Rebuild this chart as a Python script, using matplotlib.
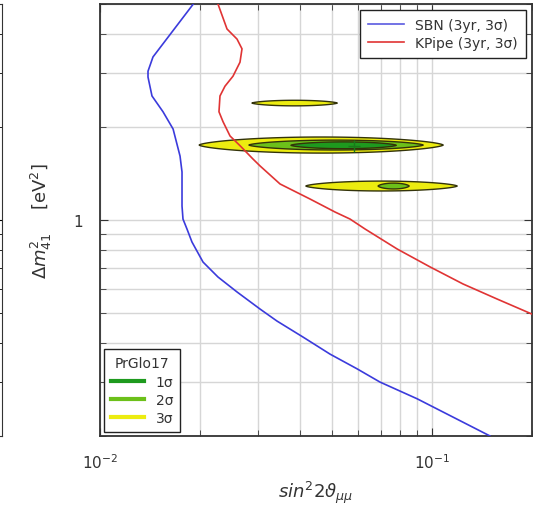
import numpy as np
import matplotlib
matplotlib.use('Agg')
import matplotlib.pyplot as plt
from matplotlib.lines import Line2D
from matplotlib.ticker import LogLocator, NullFormatter, FuncFormatter

# sensitivity curves (sin^2 2theta, dm^2 [eV^2])
sbn_x = [0.0191, 0.01444, 0.01395, 0.01395, 0.01434, 0.01548, 0.01660, 0.01742,
         0.01766, 0.01766, 0.01778, 0.01828, 0.01892, 0.02043, 0.02266, 0.02586,
         0.03034, 0.03412, 0.04087, 0.04932, 0.05943, 0.06966, 0.09012, 0.1495]
sbn_y = [5.0, 3.37, 3.03, 2.90, 2.52, 2.24, 1.97, 1.61,
         1.43, 1.11, 1.007, 0.935, 0.849, 0.731, 0.654, 0.585,
         0.515, 0.471, 0.418, 0.368, 0.330, 0.299, 0.264, 0.2]

kpipe_x = [0.02266, 0.02413, 0.02586, 0.02677, 0.02640, 0.02515, 0.02379, 0.02298,
           0.02282, 0.02347, 0.02464, 0.02640, 0.02889, 0.03034, 0.03485, 0.04292,
           0.05105, 0.05663, 0.06285, 0.07847, 0.09862, 0.1239, 0.1570, 0.2]
kpipe_y = [5.0, 4.15, 3.85, 3.58, 3.24, 2.92, 2.71, 2.52,
           2.24, 2.08, 1.87, 1.74, 1.575, 1.496, 1.308, 1.169,
           1.061, 1.007, 0.935, 0.806, 0.705, 0.621, 0.555, 0.496]

# PrGlo17 allowed islands: level, x range, centre dm^2, half height (decades)
island_level = [3, 3, 2, 1, 3, 2]
island_xlo = [0.0287, 0.0199, 0.0281, 0.0376, 0.0417, 0.0688]
island_xhi = [0.0518, 0.108, 0.094, 0.078, 0.119, 0.0853]
island_y = [2.39, 1.748, 1.748, 1.745, 1.288, 1.288]
island_dy = [0.009, 0.026, 0.016, 0.011, 0.016, 0.0095]

bestfit_x = [0.0582]
bestfit_y = [1.736]

level_colors = {1: '#1e9a1e', 2: '#6cc01a', 3: '#ecec10'}
level_labels = {1: '1σ', 2: '2σ', 3: '3σ'}

fig = plt.figure(figsize=(5.33, 5.06), dpi=100)
ax = fig.add_axes([100 / 533, 69 / 506, 432 / 533, 432 / 506])

# edge of the neighbouring panel
ax0 = fig.add_axes([-0.5, 69 / 506, 0.5 + 2 / 533, 432 / 506])
ax0.set_yscale('log')
ax0.set_ylim(0.2, 5)
ax0.set_xticks([])
ax0.tick_params(which='both', direction='in', labelleft=False, labelright=False,
                right=True, left=False, length=5)
ax0.tick_params(which='minor', length=3)
for s in ax0.spines.values():
    s.set_color('#333333')

ax.set_xscale('log')
ax.set_yscale('log')
ax.set_xlim(0.01, 0.2)
ax.set_ylim(0.2, 5)
ax.set_axisbelow(True)
ax.grid(which='both', color='#d6d6d6', lw=1)

# islands as lens-like ellipses in log space
t = np.linspace(0, 2 * np.pi, 200)
for lvl in (3, 2, 1):
    for L, xlo, xhi, yc, dy in zip(island_level, island_xlo, island_xhi, island_y, island_dy):
        if L != lvl:
            continue
        lc = (np.log10(xlo) + np.log10(xhi)) / 2
        la = (np.log10(xhi) - np.log10(xlo)) / 2
        lx = lc + la * np.cos(t)
        ly = np.log10(yc) + dy * np.sin(t) * np.abs(np.sin(t)) ** 0.3
        ax.fill(10 ** lx, 10 ** ly, facecolor=level_colors[lvl],
                edgecolor='#33330a', lw=1.0, zorder=2)
ax.plot(bestfit_x, bestfit_y, '+', color='#1a7a1a', ms=8, mew=1, zorder=3)

ax.plot(sbn_x, sbn_y, color='#3b3bdc', lw=1.2, zorder=4)
ax.plot(kpipe_x, kpipe_y, color='#e03434', lw=1.2, zorder=4)

ax.xaxis.set_major_locator(LogLocator(base=10))
ax.xaxis.set_minor_locator(LogLocator(base=10, subs=np.arange(2, 10)))
ax.xaxis.set_minor_formatter(NullFormatter())
ax.yaxis.set_major_locator(LogLocator(base=10))
ax.yaxis.set_minor_locator(LogLocator(base=10, subs=np.arange(2, 10)))
ax.yaxis.set_minor_formatter(NullFormatter())
ax.yaxis.set_major_formatter(FuncFormatter(lambda v, p: '%g' % v))
ax.tick_params(which='both', direction='in', top=True, right=True,
               labelsize=11, labelcolor='#333333', color='#333333')
ax.tick_params(which='major', length=6, pad=12)
ax.tick_params(which='minor', length=4)
for s in ax.spines.values():
    s.set_color('#333333')
    s.set_linewidth(1.3)

ax.set_xlabel(r'$\mathit{sin}^2 2\vartheta_{\mu\mu}$', fontsize=13, color='#333333', labelpad=5)
ax.set_ylabel(r'$\mathit{\Delta m}^2_{41}$    [eV$^2$]', fontsize=13, color='#333333', labelpad=14)

leg1 = ax.legend([Line2D([], [], color='#5a5ae0', lw=1.2), Line2D([], [], color='#e03434', lw=1.2)],
                 ['SBN (3yr, 3σ)', 'KPipe (3yr, 3σ)'],
                 loc='upper right', fontsize=10, fancybox=False, edgecolor='#222222',
                 framealpha=1, borderaxespad=0.4, handlelength=2.6, labelspacing=0.3,
                 borderpad=0.6)
leg1.get_frame().set_linewidth(1.0)
for txt in leg1.get_texts():
    txt.set_color('#333333')
ax.add_artist(leg1)

handles = [Line2D([], [], color=level_colors[k], lw=3) for k in (1, 2, 3)]
leg2 = ax.legend(handles, [level_labels[k] for k in (1, 2, 3)], title='PrGlo17',
                 loc='lower left', fontsize=10, title_fontsize=10, fancybox=False,
                 edgecolor='#222222', framealpha=1, borderaxespad=0.3,
                 handlelength=2.4, labelspacing=0.3, borderpad=0.5)
leg2.get_frame().set_linewidth(1.0)
leg2.get_title().set_color('#333333')
for txt in leg2.get_texts():
    txt.set_color('#333333')

fig.savefig('out.png', dpi=100)
